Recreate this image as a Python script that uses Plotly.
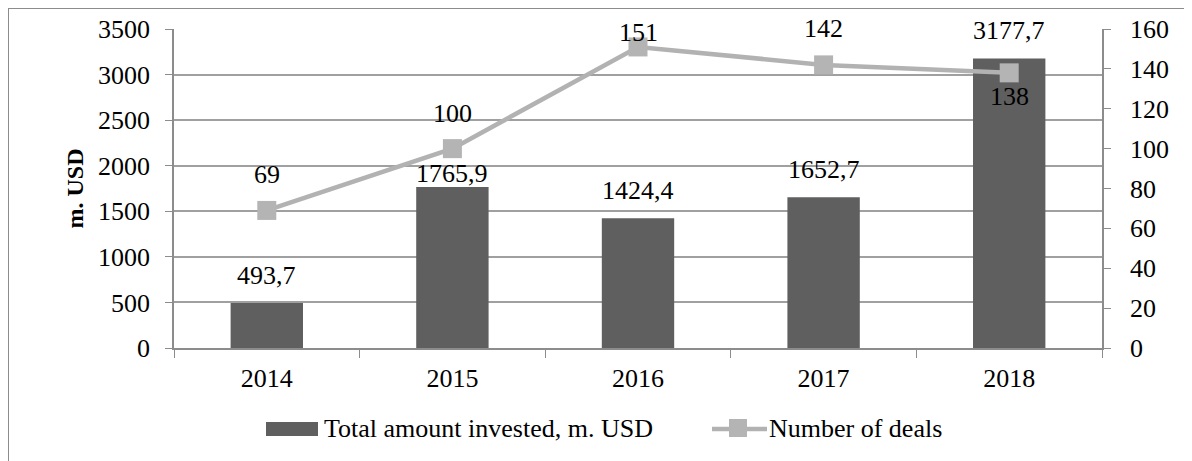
import plotly.graph_objects as go

years = ["2014", "2015", "2016", "2017", "2018"]
invested = [493.7, 1765.9, 1424.4, 1652.7, 3177.7]
deals = [69, 100, 151, 142, 138]
series_names = ["Total amount invested, m. USD", "Number of deals"]

# label offsets (pixels) of the data labels, as placed in the reference
bar_label_shift = [28, 14, 28, 28, 28]
deal_label_shift = [36, 35, 14, 36, -24]

bar_labels = [f"{v:.1f}".replace(".", ",") for v in invested]

FONT = "Liberation Serif"
FS = 26
BAR_COLOR = "#5f5f5f"
LINE_COLOR = "#b2b2b2"
MARK_COLOR = "#b4b4b4"
# page body has an 8px margin, so the figure is offset by 8px
W, H = 1184, 453
ML, MT = 166, 21
pw, ph = 928, 319
MR = W - ML - pw
MB = H - MT - ph
OFF = 8


def px_x(px):
    return (px - OFF - ML) / pw


def px_y(py):
    return (MT + ph + OFF - py) / ph


fig = go.Figure()
fig.add_trace(go.Bar(
    x=years, y=invested, name=series_names[0],
    marker=dict(color=BAR_COLOR, line=dict(width=0)),
    width=0.39, showlegend=False,
))
fig.add_trace(go.Scatter(
    x=years, y=deals, name=series_names[1], yaxis="y2",
    mode="lines+markers",
    line=dict(color=LINE_COLOR, width=4.5),
    marker=dict(symbol="square", size=19, color=MARK_COLOR),
    cliponaxis=False, showlegend=False,
))

annotations = []
for i, (v, lab, s) in enumerate(zip(invested, bar_labels, bar_label_shift)):
    annotations.append(dict(x=i, y=v, xref="x", yref="y", text=lab, showarrow=False,
                            yanchor="middle", yshift=s,
                            font=dict(family=FONT, size=FS, color="#000000")))
for i, (d, s) in enumerate(zip(deals, deal_label_shift)):
    annotations.append(dict(x=i, y=d, xref="x", yref="y2", text=str(d), showarrow=False,
                            yanchor="middle", yshift=s,
                            font=dict(family=FONT, size=FS, color="#000000")))

# custom legend (wide bar swatch, line with square marker)
leg_y = px_y(429)
annotations.append(dict(x=px_x(322), y=leg_y, xref="paper", yref="paper", text=series_names[0],
                        showarrow=False, xanchor="left", yanchor="middle",
                        font=dict(family=FONT, size=FS, color="#000000")))
annotations.append(dict(x=px_x(767), y=leg_y, xref="paper", yref="paper", text=series_names[1],
                        showarrow=False, xanchor="left", yanchor="middle",
                        font=dict(family=FONT, size=FS, color="#000000")))

shapes = [
    # outer frame (left and top edges visible)
    dict(type="line", xref="paper", yref="paper", x0=px_x(8), x1=px_x(8), y0=px_y(470), y1=px_y(8),
         line=dict(color="#8c8c8c", width=2)),
    dict(type="line", xref="paper", yref="paper", x0=px_x(8), x1=px_x(1200), y0=px_y(8), y1=px_y(8),
         line=dict(color="#8c8c8c", width=2)),
    # legend symbols
    dict(type="rect", xref="paper", yref="paper", x0=px_x(266), x1=px_x(318), y0=px_y(436), y1=px_y(422),
         fillcolor=BAR_COLOR, line=dict(width=0)),
    dict(type="line", xref="paper", yref="paper", x0=px_x(712), x1=px_x(767), y0=leg_y, y1=leg_y,
         line=dict(color=LINE_COLOR, width=4.5)),
    dict(type="rect", xref="paper", yref="paper", x0=px_x(729), x1=px_x(747), y0=px_y(437), y1=px_y(419),
         fillcolor=MARK_COLOR, line=dict(width=0)),
]

fig.update_layout(
    width=W, height=H,
    margin=dict(l=ML, r=MR, t=MT, b=MB, autoexpand=False),
    paper_bgcolor="white", plot_bgcolor="white",
    font=dict(family=FONT, size=FS, color="#000000"),
    showlegend=False,
    annotations=annotations,
    shapes=shapes,
    xaxis=dict(
        type="category", range=[-0.5, len(years) - 0.5], autorange=False,
        showline=True, linecolor="#8c8c8c", linewidth=1.5,
        ticks="outside", tickson="boundaries", ticklen=8, tickcolor="#8c8c8c",
        showgrid=False, ticklabelstandoff=6, tickfont=dict(size=FS),
    ),
    yaxis=dict(
        range=[0, 3500], dtick=500, showline=True, linecolor="#8c8c8c", linewidth=1.5,
        ticks="outside", ticklen=7, tickcolor="#8c8c8c",
        showgrid=True, gridcolor="#a0a0a0", gridwidth=1.5, zeroline=False,
        ticklabelstandoff=10, tickfont=dict(size=FS),
        title=dict(text="<b>m. USD</b>", font=dict(family=FONT, size=24), standoff=8),
    ),
    yaxis2=dict(
        range=[0, 160], dtick=20, overlaying="y", side="right",
        showline=True, linecolor="#8c8c8c", linewidth=1.5,
        ticks="outside", ticklen=7, tickcolor="#8c8c8c",
        showgrid=False, zeroline=False, ticklabelstandoff=14, tickfont=dict(size=FS),
    ),
)

fig.write_html("out.html")
